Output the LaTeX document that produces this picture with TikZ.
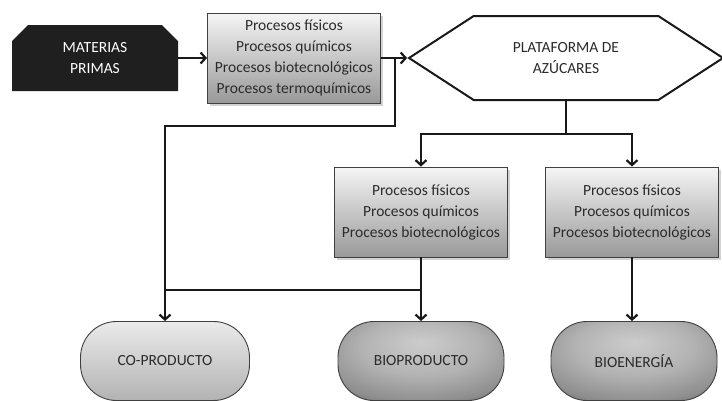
\documentclass[tikz,border=0pt]{standalone}
\usepackage{fontspec}
\setmainfont{Carlito}
\usetikzlibrary{arrows.meta,shapes.misc,shapes.symbols,shadows}
\definecolor{tinta}{HTML}{2B2B2B}
\pgfdeclareradialshading{bulbo}{\pgfpoint{0bp}{12bp}}{color(0bp)=(black!20);color(18bp)=(black!30);color(32bp)=(black!44);color(42bp)=(black!62);color(50bp)=(black!82);color(70bp)=(black!86)}
\begin{document}
\begin{tikzpicture}[x=1pt,y=-1pt,
  txt/.style = {align=center,font=\fontsize{15.5}{21}\selectfont,text=tinta},
  proc/.style = {txt,draw=black!75,line width=0.9pt,top color=black!4,bottom color=black!40,minimum width=173pt,minimum height=90pt,drop shadow={shadow xshift=2.5pt,shadow yshift=-2.5pt,opacity=0.35}},
  prima/.style = {txt,text=white,fill=black!88,chamfered rectangle,chamfered rectangle corners={north west,north east},chamfered rectangle xsep=6pt,chamfered rectangle ysep=10pt,minimum width=166pt,minimum height=66pt,inner sep=0pt},
  hexa/.style = {txt,draw=black!90,line width=2pt,fill=white,signal,signal to=west and east,signal pointer angle=66,minimum width=314pt,minimum height=84pt,inner sep=0pt},
  final/.style = {txt,draw=black!75,line width=0.9pt,rounded corners=36pt,minimum height=79pt},
  cop/.style = {final,top color=black!8,bottom color=black!30,minimum width=169pt},
  bio/.style = {final,shading=bulbo,minimum width=166pt},
  linea/.style = {draw=black!90,line width=2.2pt},
  flecha/.style = {linea,-{Straight Barb[length=5pt,width=11pt]}}]
\useasboundingbox (0,0) rectangle (722,400);
\node[prima] (mp) at (95,58) {MATERIAS\\PRIMAS};
\node[proc] (p1) at (294,58) {Procesos físicos\\Procesos químicos\\Procesos biotecnológicos\\Procesos termoquímicos};
\node[hexa] (plat) at (566,58) {PLATAFORMA DE\\AZÚCARES};
\node[proc] (p2) at (421,212) {Procesos físicos\\Procesos químicos\\Procesos biotecnológicos};
\node[proc] (p3) at (632,212) {Procesos físicos\\Procesos químicos\\Procesos biotecnológicos};
\node[cop] (cop) at (165,361) {CO-PRODUCTO};
\node[bio] (bp) at (421,361) {BIOPRODUCTO};
\node[bio] (be) at (634,361) {BIOENERGÍA};
\coordinate (r1) at (395,58);
\coordinate (r3) at (165,290);
\coordinate (r4) at (421,290);
\draw[flecha] (mp.east) -- (p1.west);
\draw[flecha] (p1.east) -- (plat.west);
\draw[flecha] (r1) -- ++(0,68) -| (cop.north);
\draw[linea] (plat.south) -- ++(0,33) coordinate (r2);
\draw[flecha] (r2) -| (p2.north);
\draw[flecha] (r2) -| (p3.north);
\draw[flecha] (p2.south) -- (bp.north);
\draw[flecha] (p3.south) -- (be.north -| p3.south);
\draw[linea] (r3) -- (r4);
\end{tikzpicture}
\end{document}
